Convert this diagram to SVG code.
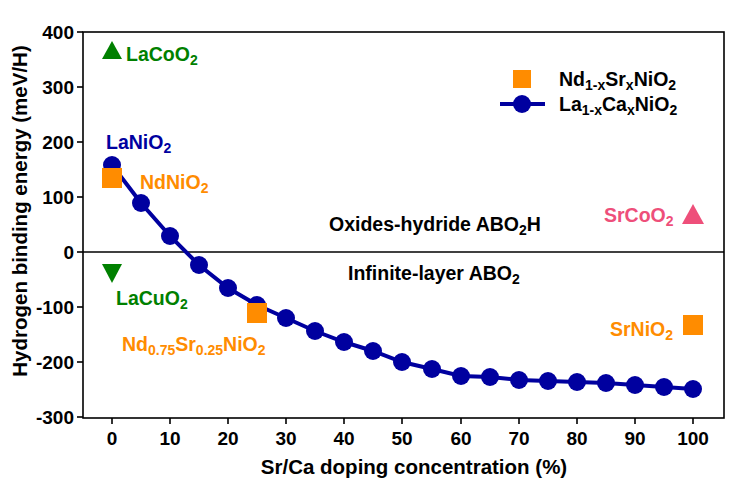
<svg xmlns="http://www.w3.org/2000/svg" width="752" height="483" viewBox="0 0 752 483">
<style>
text{font-family:"Liberation Sans",Arial,sans-serif;font-weight:bold}
.tk{font-size:19px;fill:#000}
.ax{stroke:#000;stroke-width:1.6;fill:none}
.or{fill:#ff8c00}
.gr{fill:#008000}
.bl{fill:#00009f}
.pk{fill:#ee4f7a}
.lb{font-size:19.5px}
.s{font-size:14px}
</style>
<rect width="752" height="483" fill="#fff"/>
<g id="axes">
<rect class="ax" x="83" y="32" width="641" height="386"/>
<line x1="83" y1="252" x2="724" y2="252" stroke="#000" stroke-width="1.6"/>
<g stroke="#000" stroke-width="1.6">
<line x1="77" y1="32" x2="83" y2="32"/><line x1="77" y1="87" x2="83" y2="87"/><line x1="77" y1="142" x2="83" y2="142"/><line x1="77" y1="197" x2="83" y2="197"/><line x1="77" y1="252" x2="83" y2="252"/><line x1="77" y1="307" x2="83" y2="307"/><line x1="77" y1="362" x2="83" y2="362"/><line x1="77" y1="417" x2="83" y2="417"/>
<line x1="112" y1="418" x2="112" y2="424"/><line x1="170" y1="418" x2="170" y2="424"/><line x1="228" y1="418" x2="228" y2="424"/><line x1="286" y1="418" x2="286" y2="424"/><line x1="344" y1="418" x2="344" y2="424"/><line x1="402" y1="418" x2="402" y2="424"/><line x1="461" y1="418" x2="461" y2="424"/><line x1="519" y1="418" x2="519" y2="424"/><line x1="577" y1="418" x2="577" y2="424"/><line x1="635" y1="418" x2="635" y2="424"/><line x1="693" y1="418" x2="693" y2="424"/>
</g>
<g class="tk" text-anchor="end">
<text x="74" y="39">400</text><text x="74" y="94">300</text><text x="74" y="149">200</text><text x="74" y="204">100</text><text x="74" y="259">0</text><text x="74" y="314">-100</text><text x="74" y="369">-200</text><text x="74" y="424">-300</text>
</g>
<g class="tk" text-anchor="middle">
<text x="112" y="445">0</text><text x="170" y="445">10</text><text x="228" y="445">20</text><text x="286" y="445">30</text><text x="344" y="445">40</text><text x="402" y="445">50</text><text x="461" y="445">60</text><text x="519" y="445">70</text><text x="577" y="445">80</text><text x="635" y="445">90</text><text x="693" y="445">100</text>
</g>
<text x="414" y="474" text-anchor="middle" font-size="20.5">Sr/Ca doping concentration (%)</text>
<text transform="translate(27,211) rotate(-90)" text-anchor="middle" font-size="20.5">Hydrogen binding energy (meV/H)</text>
</g>
<g id="series">
<polyline fill="none" stroke="#00009f" stroke-width="4" points="112,165 141,203 170,236 199,265 228,288 257,305 286,318 315,331 344,342 373,351 402,362 432,369 461,376 490,377 519,380 548,381 577,382 606,383 635,385 664,387 693,389"/>
<g class="bl">
<circle cx="112" cy="165" r="9"/><circle cx="141" cy="203" r="9"/><circle cx="170" cy="236" r="9"/><circle cx="199" cy="265" r="9"/><circle cx="228" cy="288" r="9"/><circle cx="257" cy="305" r="9"/><circle cx="286" cy="318" r="9"/><circle cx="315" cy="331" r="9"/><circle cx="344" cy="342" r="9"/><circle cx="373" cy="351" r="9"/><circle cx="402" cy="362" r="9"/><circle cx="432" cy="369" r="9"/><circle cx="461" cy="376" r="9"/><circle cx="490" cy="377" r="9"/><circle cx="519" cy="380" r="9"/><circle cx="548" cy="381" r="9"/><circle cx="577" cy="382" r="9"/><circle cx="606" cy="383" r="9"/><circle cx="635" cy="385" r="9"/><circle cx="664" cy="387" r="9"/><circle cx="693" cy="389" r="9"/>
</g>
<g class="or"><rect x="102" y="168" width="20" height="20"/><rect x="247" y="303" width="20" height="20"/><rect x="683" y="315" width="20" height="20"/></g>
<polygon class="gr" points="112,41 122,59 102,59"/>
<polygon class="gr" points="102,264 122,264 112,283"/>
<polygon class="pk" points="693,204 704,224 682,224"/>
</g>
<g id="labels" class="lb">
<text x="126" y="61" class="gr">LaCoO<tspan class="s" dy="4">2</tspan></text>
<text x="106" y="149" class="bl">LaNiO<tspan class="s" dy="4">2</tspan></text>
<text x="140" y="189" class="or">NdNiO<tspan class="s" dy="4">2</tspan></text>
<text x="116" y="305" class="gr">LaCuO<tspan class="s" dy="4">2</tspan></text>
<text x="122" y="351" class="or">Nd<tspan class="s" dy="4">0.75</tspan><tspan dy="-4">Sr</tspan><tspan class="s" dy="4">0.25</tspan><tspan dy="-4">NiO</tspan><tspan class="s" dy="4">2</tspan></text>
<text x="604" y="222" class="pk">SrCoO<tspan class="s" dy="4">2</tspan></text>
<text x="610" y="336" class="or">SrNiO<tspan class="s" dy="4">2</tspan></text>
<text x="329" y="231" fill="#000">Oxides-hydride ABO<tspan class="s" dy="4">2</tspan><tspan dy="-4">H</tspan></text>
<text x="348" y="280" fill="#000">Infinite-layer ABO<tspan class="s" dy="4">2</tspan></text>
</g>
<g id="legend" class="lb">
<rect class="or" x="513" y="70" width="18" height="18"/>
<line x1="500" y1="104" x2="545" y2="104" stroke="#00009f" stroke-width="4"/>
<circle class="bl" cx="522" cy="104" r="9"/>
<text x="559" y="86">Nd<tspan class="s" dy="4">1-x</tspan><tspan dy="-4">Sr</tspan><tspan class="s" dy="4">x</tspan><tspan dy="-4">NiO</tspan><tspan class="s" dy="4">2</tspan></text>
<text x="559" y="111">La<tspan class="s" dy="4">1-x</tspan><tspan dy="-4">Ca</tspan><tspan class="s" dy="4">x</tspan><tspan dy="-4">NiO</tspan><tspan class="s" dy="4">2</tspan></text>
</g>
</svg>
